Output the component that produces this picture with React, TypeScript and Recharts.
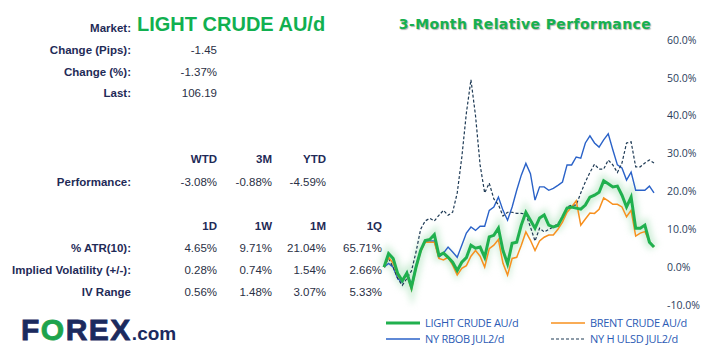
import React from 'react';
import { LineChart, Line, XAxis, YAxis } from 'recharts';

const lightCrude = [0, 3.6, 2.3, -1.7, -3.6, -1.6, -5.3, 0, 4.4, 7, 7.3, 8.6, 3.1, 3.7, 2.6, 1.3, -0.9, 1.3, 2.5, 5.8, 5, 5.3, 2.6, 8, 8.4, 10.3, 4.4, 0.9, 6.3, 6.6, 11.1, 14.5, 12.4, 10.3, 13, 13.8, 11.1, 10.6, 11, 13.2, 15.6, 15.9, 15.6, 15.3, 16.4, 18.5, 19, 19.8, 22.8, 22, 21.2, 21.4, 19, 15.9, 18.5, 10.3, 10.3, 11.1, 6.6, 5.3];
const brentCrude = [0, 2.6, 1, -2.2, -3.7, -1.9, -5.9, -0.3, 4, 6.6, 6.6, 6.6, 2.3, 1.9, 2.6, 0.5, -2.1, -0.3, 0.4, 2.9, 4.4, 2.9, 0, 4.9, 5.8, 7.3, 1, -2.1, 2.3, 2.6, 5.8, 9.3, 7.1, 4.4, 6.9, 7.9, 8.5, 8.5, 10, 11.9, 14.5, 15.9, 17.5, 11.1, 12.7, 14.3, 14.2, 15.3, 18.3, 17.5, 16.6, 16.6, 15.9, 13.3, 15, 8.2, 9, 9.4, 6.7, 5.3];
const nyRbob = [0, 1, 0, -3, -4, -1.3, -4.8, 0.5, 4.4, 6.9, 6.9, 6.9, 2.6, 3.7, 5.3, 4, 2.6, 5.8, 9, 10.6, 9.7, 10.8, 10.8, 15, 15.9, 18.5, 15, 12.4, 15.9, 20.3, 24.3, 27.4, 24.7, 17.7, 21.2, 21.2, 20.3, 20.8, 21.6, 22.5, 27, 27, 29.1, 28.8, 32.8, 34.7, 32.8, 31.7, 33.6, 35.2, 31, 27, 26.2, 23, 25.1, 20.3, 20.3, 20.3, 21.4, 19.6];
const nyUlsd = [0, 2.3, 0, -3, -4.8, -3, -1, 4, 10, 12.2, 12.9, 12.2, 13.7, 15, 13.7, 14.5, 19.6, 29, 40.7, 49.5, 40, 27, 19.6, 22.2, 18, 16.5, 13.5, 14.5, 14.5, 14.2, 14.2, 14, 10.6, 6.9, 10.3, 9.3, 10, 10.6, 11.5, 13, 15.9, 16.4, 16.4, 19.6, 22.5, 25, 27.2, 25.9, 25.9, 28.3, 27, 25, 27.5, 32.8, 33.1, 26.5, 26.5, 27.5, 28.3, 27.5];

const yTicks = [-10, 0, 10, 20, 30, 40, 50, 60];

const perfHeaders = ['WTD', '3M', 'YTD'];
const perfValues = ['-3.08%', '-0.88%', '-4.59%'];
const rangeHeaders = ['1D', '1W', '1M', '1Q'];
const atrValues = ['4.65%', '9.71%', '21.04%', '65.71%'];
const ivValues = ['0.28%', '0.74%', '1.54%', '2.66%'];
const ivRangeValues = ['0.56%', '1.48%', '3.07%', '5.33%'];

const data = lightCrude.map((v, i) => ({
  day: i,
  light: v,
  brent: brentCrude[i],
  rbob: nyRbob[i],
  ulsd: nyUlsd[i],
}));

const NAVY = '#1f2b57';
const VAL = '#2a2f45';
const colRights = [217, 272, 326, 382];

function T({ x, y, anchor = 'start', bold = false, size = 11.5, color = NAVY, children, style = {} }: any) {
  const s: any = {
    position: 'absolute',
    top: y - 8,
    lineHeight: '16px',
    height: 16,
    whiteSpace: 'nowrap',
    fontSize: size,
    fontWeight: bold ? 700 : 400,
    color,
    fontFamily: '"Liberation Sans", Arial, sans-serif',
    ...style,
  };
  if (anchor === 'end') s.right = 711 - x;
  else if (anchor === 'middle') { s.left = x - 200; s.width = 400; s.textAlign = 'center'; }
  else s.left = x;
  return <div style={s}>{children}</div>;
}

function LegendItem({ x, y, color, dash, width, label }: any) {
  return (
    <>
      <svg style={{ position: 'absolute', left: x, top: y - 3 }} width={34} height={6}>
        <line x1={0} y1={3} x2={34} y2={3} stroke={color} strokeWidth={width} strokeDasharray={dash} />
      </svg>
      <div style={{ position: 'absolute', left: x + 39, top: y - 8, lineHeight: '16px', fontSize: 11, color: '#2c5bb5', fontFamily: '"Open Sans", sans-serif', letterSpacing: -0.3, whiteSpace: 'nowrap' }}>{label}</div>
    </>
  );
}

export default function App() {
  return (
    <div style={{ position: 'absolute', left: 0, top: 0, width: 711, height: 359, background: '#fff', overflow: 'hidden' }}>
      <style>{`.glow-line path { filter: blur(3px); }`}</style>
      {/* Header block */}
      <T x={131} y={28} anchor="end" bold>Market:</T>
      <T x={137} y={24} bold size={20} color="#11b050" style={{ top: 24 - 12, lineHeight: '24px', height: 24 }}>LIGHT CRUDE AU/d</T>
      <T x={131} y={50} anchor="end" bold>Change (Pips):</T>
      <T x={217} y={50} anchor="end" color={VAL}>-1.45</T>
      <T x={131} y={72} anchor="end" bold>Change (%):</T>
      <T x={217} y={72} anchor="end" color={VAL}>-1.37%</T>
      <T x={131} y={93} anchor="end" bold>Last:</T>
      <T x={217} y={93} anchor="end" color={VAL}>106.19</T>

      {perfHeaders.map((h, i) => (
        <T key={h} x={colRights[i]} y={159} anchor="end" bold>{h}</T>
      ))}
      <T x={131} y={182} anchor="end" bold>Performance:</T>
      {perfValues.map((v, i) => (
        <T key={'p' + i} x={colRights[i]} y={182} anchor="end" color={VAL}>{v}</T>
      ))}

      {rangeHeaders.map((h, i) => (
        <T key={h} x={colRights[i]} y={226} anchor="end" bold>{h}</T>
      ))}
      <T x={131} y={248} anchor="end" bold>% ATR(10):</T>
      {atrValues.map((v, i) => (
        <T key={'a' + i} x={colRights[i]} y={248} anchor="end" color={VAL}>{v}</T>
      ))}
      <T x={131} y={270} anchor="end" bold>Implied Volatility (+/-):</T>
      {ivValues.map((v, i) => (
        <T key={'v' + i} x={colRights[i]} y={270} anchor="end" color={VAL}>{v}</T>
      ))}
      <T x={131} y={292} anchor="end" bold>IV Range</T>
      {ivRangeValues.map((v, i) => (
        <T key={'r' + i} x={colRights[i]} y={292} anchor="end" color={VAL}>{v}</T>
      ))}

      {/* Logo */}
      <div style={{ position: 'absolute', left: 21, top: 313, height: 34, lineHeight: '34px', whiteSpace: 'nowrap', fontFamily: '"Liberation Sans", Arial, sans-serif', fontWeight: 700, color: '#1b2a5e' }}>
        <span style={{ fontSize: 30, letterSpacing: 1.5, WebkitTextStroke: '0.8px #1b2a5e' }}>F</span>
        <span style={{ fontSize: 30, letterSpacing: 1.5, color: '#1ea34c', WebkitTextStroke: '0.8px #1ea34c' }}>O</span>
        <span style={{ fontSize: 30, letterSpacing: 1.5, WebkitTextStroke: '0.8px #1b2a5e' }}>REX</span>
        <span style={{ fontSize: 19 }}>.com</span>
      </div>

      {/* Chart title */}
      <div style={{ position: 'absolute', left: 325, width: 400, top: 16, textAlign: 'center', fontFamily: '"DejaVu Sans", sans-serif', fontWeight: 700, fontSize: 14, color: '#17b04f', letterSpacing: 0.4, textShadow: '1px 1px 1px rgba(0,0,0,0.3)', whiteSpace: 'nowrap' }}>
        3-Month Relative Performance
      </div>

      <div style={{ position: 'absolute', left: 0, top: 0 }}>
        <LineChart width={711} height={359} data={data} margin={{ top: 40, right: 0, left: 384, bottom: 54 }}>
          <XAxis dataKey="day" hide />
          <YAxis
            orientation="right"
            width={57}
            domain={[-10, 60]}
            ticks={yTicks}
            interval={0}
            tickFormatter={(v: number) => v.toFixed(1) + '%'}
            axisLine={false}
            tickLine={false}
            tickSize={0}
            tickMargin={13}
            tick={{ fill: '#2b3d5b', fontSize: 10.5, fontFamily: '"Open Sans", sans-serif', textAnchor: 'start' }}
          />
          <Line className="glow-line" type="linear" dataKey="light" stroke="#a6e0b6" strokeOpacity={0.5} strokeWidth={10} dot={false} activeDot={false} isAnimationActive={false} />
          <Line type="linear" dataKey="rbob" stroke="#2a62c8" strokeWidth={1.4} dot={false} activeDot={false} isAnimationActive={false} />
          <Line type="linear" dataKey="ulsd" stroke="#1e3a55" strokeWidth={1.2} strokeDasharray="3 2" dot={false} activeDot={false} isAnimationActive={false} />
          <Line type="linear" dataKey="brent" stroke="#f7901e" strokeWidth={1.5} dot={false} activeDot={false} isAnimationActive={false} />
          <Line type="linear" dataKey="light" stroke="#20b04e" strokeWidth={3} dot={false} activeDot={false} isAnimationActive={false} />
        </LineChart>
      </div>

      {/* Legend */}
      <LegendItem x={386} y={323} color="#20b04e" width={3} label="LIGHT CRUDE AU/d" />
      <LegendItem x={551} y={323} color="#f7901e" width={1.5} label="BRENT CRUDE AU/d" />
      <LegendItem x={386} y={339} color="#2a62c8" width={1.4} label="NY RBOB JUL2/d" />
      <LegendItem x={551} y={339} color="#1e3a55" width={1.2} dash="3 2" label="NY H ULSD JUL2/d" />
    </div>
  );
}
